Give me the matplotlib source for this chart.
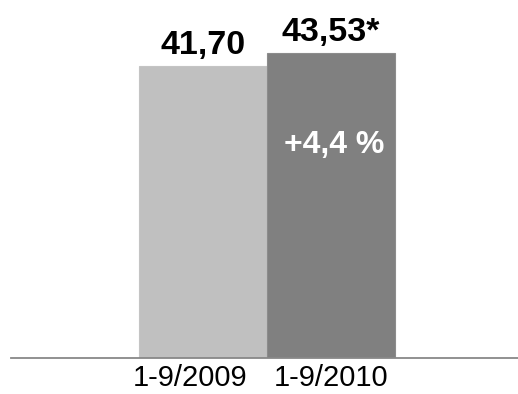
import matplotlib
matplotlib.use("Agg")
import matplotlib.pyplot as plt
from matplotlib.transforms import ScaledTranslation

plt.rcParams['font.family'] = ['Liberation Sans', 'DejaVu Sans']

periods = ["1-9/2009", "1-9/2010"]
values = [41.70, 43.53]
value_labels = ["41,70", "43,53*"]
change_label = "+4,4 %"
colors = ["#c0c0c0", "#808080"]

fig = plt.figure(figsize=(5.18, 3.94), dpi=100)
ax = fig.add_axes([11 / 518, 36.5 / 394, 1 - 11 / 518, 357.5 / 394])

x = list(range(len(values)))
bars = ax.bar(x, values, width=1.0, color=colors, edgecolor=["#c4c4c4", "#8c8c8c"], linewidth=0.8)

ax.set_xlim(-1.5, 2.46)
ax.set_ylim(0, 51.15)

for xi, v, lab in zip(x, values, value_labels):
    ax.annotate(lab, (xi, v), xytext=(0, 9), textcoords="offset points",
                ha="center", va="baseline", fontsize=24.5, fontweight="bold", color="#000000")

ax.text(1.027, 29.25, change_label, ha="center", va="baseline",
        fontsize=23, fontweight="bold", color="white")

for s in ["top", "right", "left"]:
    ax.spines[s].set_visible(False)
ax.spines["bottom"].set_color("#888888")
ax.spines["bottom"].set_linewidth(1.3)
ax.set_yticks([])
ax.set_xticks(x)
ax.set_xticklabels(periods, fontsize=21)
ax.tick_params(axis="x", length=0, pad=5)
lbls = ax.get_xticklabels()
lbls[0].set_transform(lbls[0].get_transform() + ScaledTranslation(-13 / 100, 0, fig.dpi_scale_trans))

fig.savefig("out.png", dpi=100)
